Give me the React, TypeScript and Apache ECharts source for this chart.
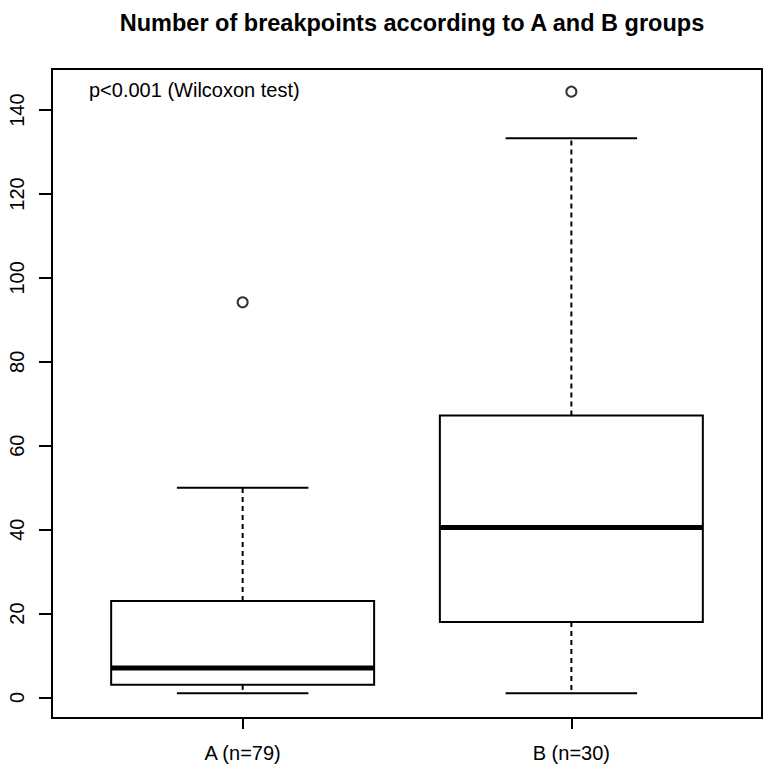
import React, { useEffect, useRef } from "react";
import * as echarts from "echarts";

// ---- data ----
const categories = ["A (n=79)", "B (n=30)"];
const lowerWhisker = [1, 1];
const q1 = [3, 18];
const median = [7, 40.5];
const q3 = [23, 67.2];
const upperWhisker = [50, 133.3];
const outlierGroup = [1, 2];
const outlierValue = [94.2, 144.4];
const yTicks = [0, 20, 40, 60, 80, 100, 120, 140];
const xTicks = [1, 2];
const titleText = "Number of breakpoints according to A and B groups";
const noteText = "p<0.001 (Wilcoxon test)";

const FONT = "'Liberation Sans', Arial, Helvetica, sans-serif";

export default function App() {
  const ref = useRef<HTMLDivElement>(null);
  useEffect(() => {
    if (!ref.current) return;
    const chart = echarts.init(ref.current, null, { renderer: "svg" });
    const boxData = categories.map((_, i) => [
      i + 1,
      lowerWhisker[i],
      q1[i],
      median[i],
      q3[i],
      upperWhisker[i],
    ]);
    const outData = outlierGroup.map((g, i) => [g, outlierValue[i]]);

    chart.setOption({
      animation: false,
      backgroundColor: "#fff",
      textStyle: { fontFamily: FONT },
      title: {
        text: titleText,
        left: 407,
        top: 6,
        textAlign: "center",
        textStyle: { fontFamily: FONT, fontSize: 23.5, fontWeight: "bold", color: "#000" },
      },
      grid: {
        left: 52,
        right: 10,
        top: 69,
        bottom: 57,
        show: true,
        borderColor: "#000",
        borderWidth: 2,
        backgroundColor: "transparent",
      },
      xAxis: {
        type: "value",
        min: 0.42,
        max: 2.58,
        splitLine: { show: false },
        axisLine: { show: true, onZero: false, lineStyle: { color: "#000", width: 2 } },
        axisTick: {
          show: true,
          customValues: xTicks,
          length: 11,
          lineStyle: { color: "#000", width: 2 },
        },
        axisLabel: {
          customValues: xTicks,
          formatter: (v: number) => categories[Math.round(v) - 1] ?? "",
          fontSize: 20,
          fontFamily: FONT,
          color: "#000",
          margin: 25,
        },
      },
      yAxis: {
        type: "value",
        min: -4.9,
        max: 149.8,
        splitLine: { show: false },
        axisLine: { show: true, onZero: false, lineStyle: { color: "#000", width: 2 } },
        axisTick: {
          show: true,
          customValues: yTicks,
          length: 13,
          lineStyle: { color: "#000", width: 2 },
        },
        axisLabel: {
          customValues: yTicks,
          rotate: 90,
          fontSize: 20,
          fontFamily: FONT,
          color: "#000",
          margin: 25,
        },
      },
      graphic: [
        {
          type: "text",
          left: 89,
          top: 80,
          style: {
            text: noteText,
            fontSize: 20,
            fontFamily: FONT,
            fill: "#000",
          },
        },
      ],
      series: [
        {
          type: "custom",
          data: boxData,
          encode: { x: 0, y: [1, 2, 3, 4, 5] },
          renderItem: (params: any, api: any) => {
            const x = api.value(0);
            const lo = api.value(1);
            const a = api.value(2);
            const m = api.value(3);
            const b = api.value(4);
            const hi = api.value(5);
            const tl = api.coord([x - 0.4, b]);
            const br = api.coord([x + 0.4, a]);
            const mL = api.coord([x - 0.4, m]);
            const mR = api.coord([x + 0.4, m]);
            const cTop = api.coord([x, b]);
            const cHi = api.coord([x, hi]);
            const cBot = api.coord([x, a]);
            const cLo = api.coord([x, lo]);
            const capHiL = api.coord([x - 0.2, hi]);
            const capHiR = api.coord([x + 0.2, hi]);
            const capLoL = api.coord([x - 0.2, lo]);
            const capLoR = api.coord([x + 0.2, lo]);
            const stroke = { stroke: "#000", lineWidth: 2, fill: "none" };
            const dashed = { stroke: "#000", lineWidth: 2, lineDash: [5, 4] };
            return {
              type: "group",
              children: [
                {
                  type: "line",
                  shape: { x1: cTop[0], y1: cTop[1], x2: cHi[0], y2: cHi[1] },
                  style: dashed,
                },
                {
                  type: "line",
                  shape: { x1: cBot[0], y1: cBot[1], x2: cLo[0], y2: cLo[1] },
                  style: dashed,
                },
                {
                  type: "line",
                  shape: { x1: capHiL[0], y1: capHiL[1], x2: capHiR[0], y2: capHiR[1] },
                  style: stroke,
                },
                {
                  type: "line",
                  shape: { x1: capLoL[0], y1: capLoL[1], x2: capLoR[0], y2: capLoR[1] },
                  style: stroke,
                },
                {
                  type: "rect",
                  shape: {
                    x: tl[0],
                    y: tl[1],
                    width: br[0] - tl[0],
                    height: br[1] - tl[1],
                  },
                  style: stroke,
                },
                {
                  type: "line",
                  shape: { x1: mL[0], y1: mL[1], x2: mR[0], y2: mR[1] },
                  style: { stroke: "#000", lineWidth: 5 },
                },
              ],
            };
          },
          z: 2,
        },
        {
          type: "scatter",
          data: outData,
          symbol: "circle",
          symbolSize: 10,
          itemStyle: { color: "#fff", borderColor: "#000", borderWidth: 2 },
          z: 3,
        },
      ],
    });
    return () => chart.dispose();
  }, []);

  return (
    <div
      ref={ref}
      style={{ position: "absolute", left: 0, top: 0, width: 772, height: 775 }}
    />
  );
}
